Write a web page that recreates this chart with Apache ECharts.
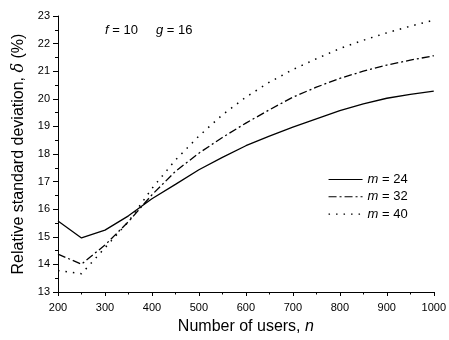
<!DOCTYPE html>
<html>
<head>
<meta charset="utf-8">
<script src="https://cdn.jsdelivr.net/npm/echarts@6/dist/echarts.min.js"></script>
<style>
html,body{margin:0;padding:0;background:#fff;}
#chart{width:449px;height:340px;}
</style>
</head>
<body>
<div id="chart"></div>
<script>
var users = [200, 250, 300, 350, 400, 450, 500, 550, 600, 650, 700, 750, 800, 850, 900, 950, 1000];
var m24 = [15.57, 14.96, 15.24, 15.76, 16.38, 16.9, 17.43, 17.88, 18.3, 18.65, 18.97, 19.27, 19.57, 19.82, 20.02, 20.16, 20.28];
var m32 = [14.37, 14.01, 14.7, 15.55, 16.52, 17.37, 18.03, 18.6, 19.12, 19.6, 20.06, 20.42, 20.74, 21.0, 21.22, 21.4, 21.56];
var m40 = [13.78, 13.66, 14.6, 15.55, 16.75, 17.78, 18.65, 19.42, 20.06, 20.6, 21.06, 21.45, 21.82, 22.12, 22.39, 22.63, 22.85];
var seriesNames = ['m = 24', 'm = 32', 'm = 40'];

function pairs(ys) { return users.map(function (x, i) { return [x, ys[i]]; }); }

var FONT = 'Liberation Sans, Arial, sans-serif';
var chart = echarts.init(document.getElementById('chart'), null, {renderer: 'canvas'});
var italic = {fontStyle: 'italic', fontFamily: FONT, fontSize: 13, color: '#000'};
var option = {
  backgroundColor: '#fff',
  animation: false,
  textStyle: {fontFamily: FONT, color: '#000'},
  title: [
    {text: '{i|f} = 10', left: 105, top: 24, padding: 0,
     textStyle: {fontFamily: FONT, fontSize: 13, fontWeight: 'normal', color: '#000', rich: {i: italic}}},
    {text: '{i|g} = 16', left: 156, top: 24, padding: 0,
     textStyle: {fontFamily: FONT, fontSize: 13, fontWeight: 'normal', color: '#000', rich: {i: italic}}}
  ],
  legend: {
    orient: 'vertical', left: 328, top: 173, padding: 0,
    itemWidth: 34, itemHeight: 14, itemGap: 4.3,
    data: seriesNames,
    itemStyle: {color: 'transparent', borderColor: 'transparent', borderWidth: 0, opacity: 0},
    lineStyle: {width: 1.1},
    formatter: function (n) { return '{i|m}' + n.slice(1); },
    textStyle: {fontFamily: FONT, fontSize: 13, color: '#000', padding: [0, 0, 0, 0],
      rich: {i: italic}}
  },
  grid: {left: 58, right: 14, top: 16, bottom: 47, containLabel: false},
  xAxis: {
    type: 'value', min: 200, max: 1000, interval: 100,
    name: 'Number of users, {i|n}', nameLocation: 'middle', nameGap: 27,
    nameTextStyle: {fontFamily: FONT, fontSize: 16, color: '#000',
      rich: {i: {fontStyle: 'italic', fontFamily: FONT, fontSize: 16, color: '#000'}}},
    axisLine: {show: true, lineStyle: {color: '#000', width: 1}},
    axisTick: {show: true, length: 4, lineStyle: {color: '#000'}},
    minorTick: {show: true, splitNumber: 2, length: 2.5, lineStyle: {color: '#000'}},
    axisLabel: {fontFamily: FONT, fontSize: 11, color: '#000', margin: 10,
      formatter: function (v) { return String(v); }},
    splitLine: {show: false}
  },
  yAxis: {
    type: 'value', min: 13, max: 23, interval: 1,
    name: 'Relative standard deviation, {i|δ} (%)', nameLocation: 'middle', nameGap: 23, nameRotate: 90,
    nameTextStyle: {fontFamily: FONT, fontSize: 16, color: '#000',
      rich: {i: {fontStyle: 'italic', fontFamily: 'DejaVu Serif, serif', fontSize: 16, color: '#000'}}},
    axisLine: {show: true, lineStyle: {color: '#000', width: 1}},
    axisTick: {show: true, length: 5, lineStyle: {color: '#000'}},
    minorTick: {show: true, splitNumber: 2, length: 3, lineStyle: {color: '#000'}},
    axisLabel: {fontFamily: FONT, fontSize: 11, color: '#000', margin: 8},
    splitLine: {show: false}
  },
  series: [
    {name: seriesNames[0], type: 'line', data: pairs(m24), symbol: 'none', color: '#000',
     lineStyle: {color: '#000', width: 1.3, type: 'solid'}},
    {name: seriesNames[1], type: 'line', data: pairs(m32), symbol: 'none', color: '#000',
     lineStyle: {color: '#000', width: 1.3, type: [8, 3, 2, 3]}},
    {name: seriesNames[2], type: 'line', data: pairs(m40), symbol: 'none', color: '#000',
     lineStyle: {color: '#000', width: 1.5, type: [1.5, 6]}}
  ]
};
chart.setOption(option);
</script>
</body>
</html>
